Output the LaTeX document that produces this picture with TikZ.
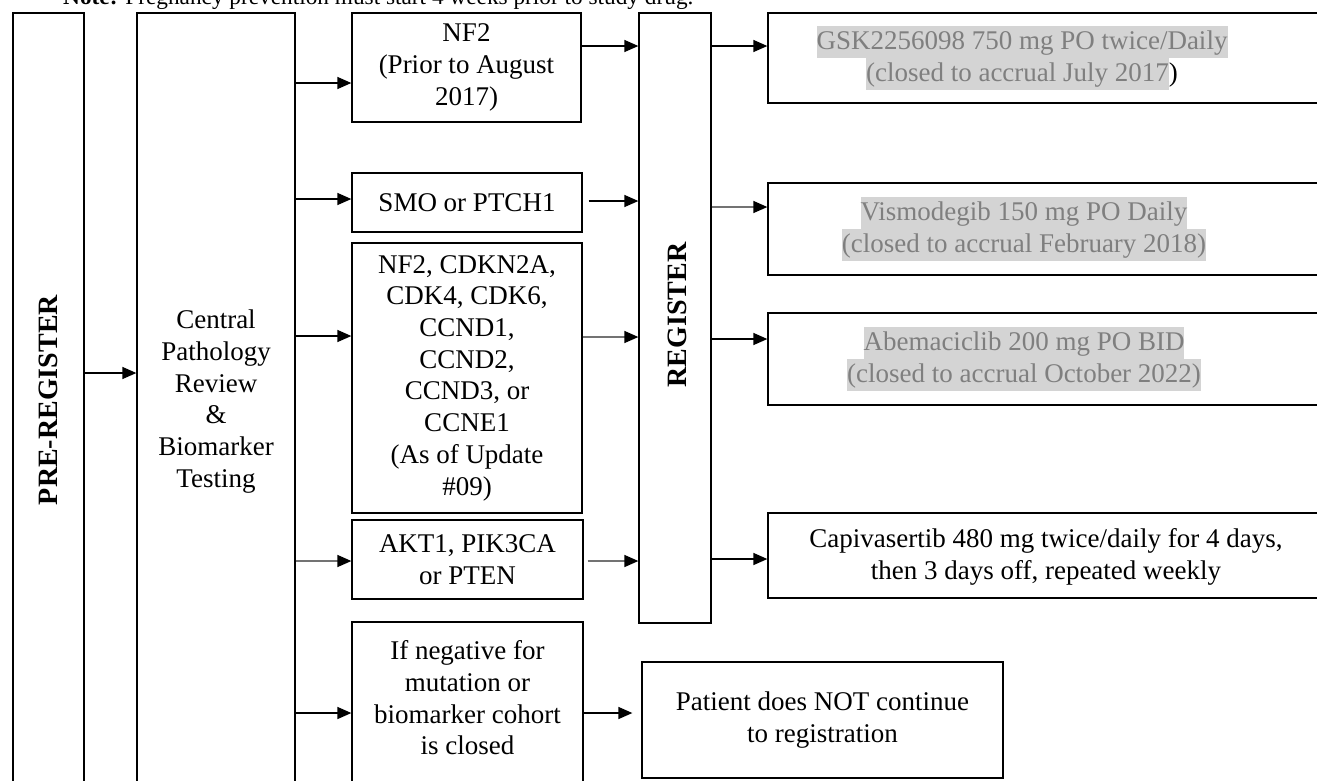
\documentclass[tikz,border=0pt]{standalone}
\usepackage{fontspec}
\setmainfont{Liberation Serif}
\usetikzlibrary{arrows.meta}
\definecolor{hlgray}{HTML}{D4D4D4}
\definecolor{txtgray}{HTML}{7F7F7F}
\newcommand{\hlline}[1]{{\setlength{\fboxsep}{0pt}\colorbox{hlgray}{\rule[-8pt]{0pt}{31.5pt}#1}}}
\tikzset{
  box/.style={draw=black, line width=1.3pt, inner sep=0pt, fill=white},
  txt/.style={font=\fontsize{27}{31.7}\selectfont, align=center, inner sep=0pt},
  btxt/.style={font=\fontsize{28}{32}\selectfont\bfseries, inner sep=0pt},
  gtxt/.style={font=\fontsize{27}{31.7}\selectfont, align=center, inner sep=0pt, text=txtgray},
  arr/.style={draw=black, line width=1.4pt, -{Triangle[length=14pt,width=12pt,color=black]}},
  garr/.style={draw=black!55, line width=1.4pt, -{Triangle[length=14pt,width=12pt,color=black]}}
}
\begin{document}
\begin{tikzpicture}[x=1pt,y=-1pt]
\clip (0,0) rectangle (1317,780);
\fill[white] (0,0) rectangle (1317,780);

% note (cut off at the top edge, as in the reference)
\node[anchor=base west, inner sep=0pt, font=\fontsize{23.3}{26}\selectfont] (note) at (63,4)
  {\textbf{Note:} Pregnancy prevention must start 4 weeks prior to study drug.};

% left columns
\node[box, minimum width=71pt, minimum height=777pt] (prereg) at (48.5,401.5) {};
\node[btxt, rotate=90] (preregt) at (48.5,400) {PRE-REGISTER};
\node[box, txt, minimum width=158pt, minimum height=777pt] (central) at (216,401.5)
  {Central\\Pathology\\Review\\\&\\Biomarker\\Testing};

% middle column
\node[box, txt, minimum width=229pt, minimum height=109pt] (nf2) at (466.5,67.5)
  {NF2\\(Prior to August\\2017)};
\node[box, txt, minimum width=230pt, minimum height=59pt] (smo) at (467,202.5)
  {SMO or PTCH1};
\node[box, txt, minimum width=230pt, minimum height=270pt] (cdk) at (467,378)
  {NF2, CDKN2A,\\CDK4, CDK6,\\CCND1,\\CCND2,\\CCND3, or\\CCNE1\\(As of Update\\\#09)};
\node[box, txt, minimum width=231pt, minimum height=79pt] (akt) at (467.5,559.5)
  {AKT1, PIK3CA\\or PTEN};
\node[box, minimum width=231pt, minimum height=163pt] (neg) at (467.5,703.5) {};
\node[txt] (negt) at (467.5,698)
  {If negative for\\mutation or\\biomarker cohort\\is closed};

% register
\node[box, minimum width=72pt, minimum height=610pt] (reg) at (675,318) {};
\node[btxt, rotate=90] (regt) at (677,315) {REGISTER};

% right column
\node[box, minimum width=562pt, minimum height=90pt] (gsk) at (1049,58) {};
\node[gtxt] (gskt) at (1022,58)
  {\hlline{GSK2256098 750 mg PO twice/Daily}\\\hlline{(closed to accrual July 2017}\textcolor{black}{)}};
\node[box, minimum width=562pt, minimum height=92pt] (vis) at (1049,229) {};
\node[gtxt] (vist) at (1024,229)
  {\hlline{Vismodegib 150 mg PO Daily}\\\hlline{(closed to accrual February 2018)}};
\node[box, minimum width=562pt, minimum height=92pt] (abe) at (1049,359) {};
\node[gtxt] (abet) at (1024,359)
  {\hlline{Abemaciclib 200 mg PO BID}\\\hlline{(closed to accrual October 2022)}};
\node[box, minimum width=562pt, minimum height=85pt] (capi) at (1049,555.5) {};
\node[txt] (capit) at (1046,557)
  {Capivasertib 480 mg twice/daily for 4 days,\\then 3 days off, repeated weekly};
\node[box, txt, minimum width=361pt, minimum height=116pt] (pat) at (822.5,720)
  {Patient does NOT continue\\to registration};

% connectors
\draw[arr] (prereg.east |- 0,373) -- (central.west |- 0,373);
\draw[arr] (central.east |- 0,83) -- (nf2.west |- 0,83);
\draw[arr] (central.east |- 0,199) -- (smo.west |- 0,199);
\draw[arr] (central.east |- 0,336) -- (cdk.west |- 0,336);
\draw[garr] (central.east |- 0,561) -- (akt.west |- 0,561);
\draw[arr] (central.east |- 0,713) -- (neg.west |- 0,713);

\draw[arr] (nf2.east |- 0,46) -- (reg.west |- 0,46);
\draw[arr] ([xshift=6pt]smo.east |- 0,201) -- (reg.west |- 0,201);
\draw[garr] (cdk.east |- 0,337) -- (reg.west |- 0,337);
\draw[garr] ([xshift=4pt]akt.east |- 0,561) -- (reg.west |- 0,561);
\draw[arr] (neg.east |- 0,713) -- ([xshift=-9pt]pat.west |- 0,713);

\draw[arr] (reg.east |- 0,46) -- (gsk.west |- 0,46);
\draw[garr] (reg.east |- 0,207) -- (vis.west |- 0,207);
\draw[arr] (reg.east |- 0,339) -- (abe.west |- 0,339);
\draw[arr] (reg.east |- 0,559) -- (capi.west |- 0,559);
\end{tikzpicture}
\end{document}
